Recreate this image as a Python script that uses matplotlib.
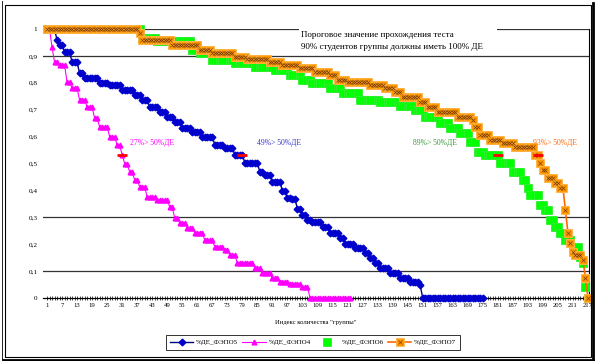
import matplotlib
matplotlib.use("Agg")
import matplotlib.pyplot as plt
import numpy as np
from matplotlib.lines import Line2D
from matplotlib.patches import Rectangle

plt.rcParams["font.family"] = ["Liberation Serif", "DejaVu Serif"]

# run-length data: value of each plateau and how many students sit on it
FEPO5_VALS = [1.0, 0.959, 0.94, 0.915, 0.877, 0.836, 0.818, 0.80, 0.79, 0.773, 0.755,
              0.736, 0.71, 0.69, 0.673, 0.654, 0.632, 0.617, 0.60, 0.569, 0.558,
              0.532, 0.502, 0.468, 0.457, 0.431, 0.398, 0.372, 0.368, 0.331, 0.309,
              0.29, 0.283, 0.264, 0.242, 0.223, 0.20, 0.186, 0.167, 0.15, 0.13, 0.11,
              0.093, 0.074, 0.06, 0.048, 0.0]
FEPO5_RUNS = [4, 1, 2, 3, 3, 2, 6, 4, 5, 5, 3,
              3, 4, 3, 3, 3, 4, 4, 5, 4, 4,
              4, 6, 2, 3, 4, 2, 2, 2, 2, 2,
              2, 4, 3, 4, 2, 4, 4, 2, 2, 2, 4,
              4, 4, 4, 1, 25]

FEPO4_VALS = [1.0, 0.933, 0.877, 0.866, 0.803, 0.78, 0.736, 0.71, 0.669, 0.636, 0.60,
              0.569, 0.532, 0.50, 0.468, 0.439, 0.413, 0.375, 0.364, 0.338, 0.297,
              0.279, 0.26, 0.242, 0.215, 0.19, 0.178, 0.16, 0.13, 0.11, 0.093,
              0.074, 0.06, 0.052, 0.041, 0.0]
FEPO4_RUNS = [2, 1, 2, 3, 2, 3, 3, 3, 2, 4, 3,
              2, 1, 2, 2, 2, 3, 4, 5, 2, 2,
              3, 3, 4, 4, 4, 2, 3, 7, 3, 4,
              3, 4, 5, 3, 17]

FEPO6_VALS = [1.0, 0.967, 0.955, 0.922, 0.91, 0.885, 0.874, 0.859, 0.848, 0.829, 0.81,
              0.80, 0.781, 0.762, 0.736, 0.729, 0.714, 0.699, 0.673, 0.65, 0.632,
              0.613, 0.58, 0.543, 0.532, 0.502, 0.468, 0.439, 0.409, 0.383, 0.346,
              0.327, 0.29, 0.264, 0.242, 0.216, 0.19, 0.152, 0.13, 0.041, 0.0]
FEPO6_RUNS = [38, 6, 14, 3, 5, 9, 8, 8, 6, 5, 4,
              7, 5, 7, 8, 8, 6, 4, 6, 4, 4,
              4, 3, 3, 6, 5, 4, 2, 1, 4, 2,
              2, 2, 2, 2, 3, 3, 1, 1, 1, 1]

FEPO7_VALS = [1.0, 0.985, 0.96, 0.94, 0.922, 0.91, 0.896, 0.89, 0.877, 0.866, 0.855,
              0.84, 0.829, 0.81, 0.803, 0.792, 0.78, 0.766, 0.747, 0.73, 0.71,
              0.691, 0.673, 0.662, 0.636, 0.606, 0.587, 0.576, 0.56, 0.532, 0.502,
              0.476, 0.446, 0.428, 0.409, 0.327, 0.242, 0.204, 0.171, 0.16, 0.141,
              0.074, 0.0]
FEPO7_RUNS = [37, 1, 12, 11, 5, 9, 5, 9, 5, 7, 6,
              6, 3, 4, 9, 6, 4, 3, 7, 3, 4,
              8, 6, 1, 2, 4, 5, 5, 8, 2, 1,
              2, 3, 2, 2, 1, 1, 1, 1, 3, 1,
              1, 1]

LABELS = ["%ДЕ_ФЭПО5", "%ДЕ_ФЭПО4", "%ДЕ_ФЭПО6", "%ДЕ_ФЭПО7"]
# index of the point flagged in red near the 50% crossing
MARK_IDX = [79, 31, 181, 197]
NOTES = ["49%> 50%ДЕ", "27%> 50%ДЕ", "89%> 50%ДЕ", "93%> 50%ДЕ"]
NOTE_X = [85, 34, 147, 195]
NOTE_COLORS = ["#3333CC", "#FF00FF", "#339933", "#FF6600"]

GRID_Y = [1.0, 0.9, 0.3, 0.1]
X_TICKS = list(range(1, 218, 6))
Y_TICKS = [round(0.1 * k, 1) for k in range(11)]

TITLE = "Пороговое значение прохождения теста\n90% студентов группы должны иметь 100% ДЕ"
XLABEL = "Индекс количества \"группы\""


def expand(vals, runs):
    return np.repeat(vals, runs)


W, H = 596, 361
fig = plt.figure(figsize=(W / 100, H / 100), dpi=100)
ax = fig.add_axes([43 / W, 1 - 298 / H, (589 - 43) / W, (298 - 29) / H])

series = [expand(FEPO5_VALS, FEPO5_RUNS), expand(FEPO4_VALS, FEPO4_RUNS),
          expand(FEPO6_VALS, FEPO6_RUNS), expand(FEPO7_VALS, FEPO7_RUNS)]

for gy in GRID_Y:
    ax.axhline(gy, color="#333333", lw=0.9, zorder=1)

# white box behind the threshold note (hides part of the 1.0 line)
ax.add_patch(Rectangle((101.5, 0.905), 79, 0.1, facecolor="white",
                       edgecolor="none", zorder=1.5, clip_on=False))
ax.text(102.5, 0.955, TITLE, fontsize=6.5, va="center", ha="left",
        linespacing=1.55, zorder=2)

handles = []
x5 = np.arange(1, len(series[0]) + 1)
h, = ax.plot(x5, series[0], color="#000080", lw=1.0, marker="D", ms=3.4,
             mfc="#0000CC", mec="#0000CC", zorder=3, clip_on=False)
handles.append(h)
x4 = np.arange(1, len(series[1]) + 1)
h, = ax.plot(x4, series[1], color="#FF00FF", lw=0.8, marker="^", ms=3.4,
             mfc="#FF00FF", mec="#FF00FF", zorder=3, clip_on=False)
handles.append(h)
x6 = np.arange(1, len(series[2]) + 1)
h, = ax.plot(x6, series[2], ls="none", marker="s", ms=5.5,
             mfc="#00FF00", mec="#33EE33", mew=0.6, zorder=4, clip_on=False)
handles.append(h)
x7 = np.arange(1, len(series[3]) + 1)
h7, = ax.plot(x7, series[3], color="#FF6600", lw=1.2, marker="s", ms=5.5,
              mfc="#FF9900", mec="#FFB347", mew=0.6, zorder=5, clip_on=False)
h7x, = ax.plot(x7, series[3], ls="none", marker="x", ms=2.5, mew=0.5,
               color="#7A3A00", zorder=6, clip_on=False)
handles.append((h7, h7x))

for s, idx in zip(series, MARK_IDX):
    ax.plot(idx, s[idx - 1], marker="_", ms=7, mew=2, color="red", zorder=7)

for txt, nx, c in zip(NOTES, NOTE_X, NOTE_COLORS):
    ax.text(nx, 0.576, txt, color=c, fontsize=5.5, va="center", ha="left", zorder=8)

ax.set_xlim(-0.6, 217.4)
ax.set_ylim(0, 1)
ax.set_xticks(X_TICKS)
ax.set_xticklabels([str(t) for t in X_TICKS], fontsize=4.8)
ax.set_xticks(np.arange(1, 218), minor=True)
ax.tick_params(axis="x", which="both", direction="inout", length=3, width=0.5, pad=2)
ax.set_yticks(Y_TICKS)
ax.set_yticklabels([f"{t:g}".replace(".", ",") for t in Y_TICKS], fontsize=5.2)
ax.tick_params(axis="y", length=0, pad=4)
for side in ("left", "top"):
    ax.spines[side].set_visible(False)
ax.spines["bottom"].set_linewidth(0.9)
ax.spines["right"].set_linewidth(0.8)
ax.set_xlabel(XLABEL, fontsize=4.8, labelpad=9)

leg = fig.legend(handles, LABELS, loc="center", ncol=4, fontsize=5,
                 bbox_to_anchor=(313 / W, 1 - 342.5 / H), frameon=True,
                 fancybox=False, edgecolor="black", handlelength=3.4,
                 borderpad=0.6, columnspacing=0.6, handletextpad=0.4)
leg.get_frame().set_linewidth(0.7)

# chart frame with shadow
fx = lambda px: px / W
fy = lambda py: 1 - py / H
fig.add_artist(Line2D([fx(1.5), fx(1.5)], [fy(1), fy(359)], color="black", lw=0.6))
fig.add_artist(Rectangle((fx(4.5), fy(357)), fx(591) - fx(4.5), fy(4.5) - fy(357),
                         transform=fig.transFigure, fill=False, edgecolor="black", lw=0.8))
fig.add_artist(Line2D([fx(593), fx(593)], [fy(3), fy(359.5)], color="black", lw=2))
fig.add_artist(Line2D([fx(3), fx(593)], [fy(359.5), fy(359.5)], color="black", lw=2))

fig.savefig("out.png", dpi=100)
